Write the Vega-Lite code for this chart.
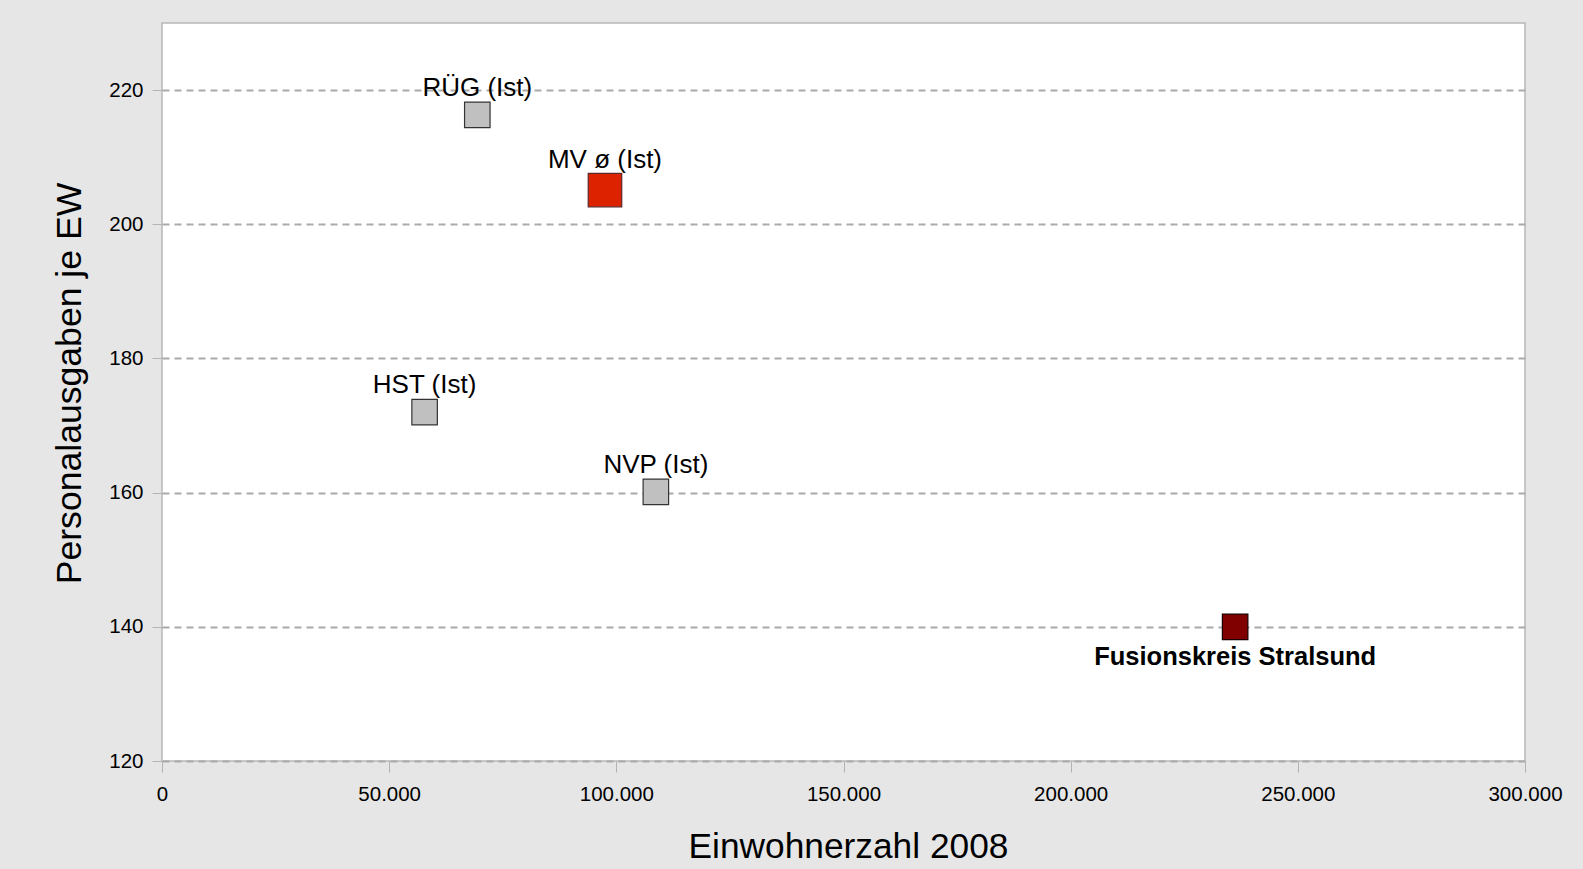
{
  "$schema": "https://vega.github.io/schema/vega-lite/v6.json",
  "width": 1363,
  "height": 738,
  "autosize": {"type": "none"},
  "padding": {"left": 162, "top": 23, "right": 58, "bottom": 108},
  "background": "#e6e6e6",
  "config": {
    "font": "Liberation Sans",
    "view": {"fill": "white", "stroke": "#b8b8b8", "strokeWidth": 1.5},
    "locale": {"number": {"decimal": ",", "thousands": ".", "grouping": [3], "currency": ["", " €"]}}
  },
  "data": {
    "values": [
      {"name": "RÜG", "label": "RÜG (Ist)", "typ": "Ist", "einwohner": 69400, "ausgaben": 216.3},
      {"name": "MV", "label": "MV ø (Ist)", "typ": "MV", "einwohner": 97500, "ausgaben": 205.1},
      {"name": "HST", "label": "HST (Ist)", "typ": "Ist", "einwohner": 57800, "ausgaben": 172.0},
      {"name": "NVP", "label": "NVP (Ist)", "typ": "Ist", "einwohner": 108700, "ausgaben": 160.1},
      {"name": "Fusion", "label": "Fusionskreis Stralsund", "typ": "Fusion", "einwohner": 236200, "ausgaben": 140.0}
    ]
  },
  "layer": [
    {
      "mark": {"type": "point", "shape": "square", "filled": true, "opacity": 1, "strokeWidth": 1.2},
      "encoding": {
        "x": {
          "field": "einwohner", "type": "quantitative",
          "scale": {"domain": [0, 300000], "nice": false, "zero": false},
          "axis": {
            "values": [0, 50000, 100000, 150000, 200000, 250000, 300000],
            "format": ",d",
            "grid": false, "domain": false, "labelFlush": false, "labelOverlap": false,
            "tickColor": "#b3b3b3", "tickSize": 11, "tickWidth": 1,
            "labelFontSize": 20.5, "labelColor": "#000000", "labelPadding": 12,
            "title": "Einwohnerzahl 2008", "titleFontSize": 35.3, "titleFontWeight": "normal",
            "titleColor": "#000000", "titleX": 686, "titleY": 96,
            "titleAlign": "center", "titleBaseline": "alphabetic", "titleAnchor": null
          }
        },
        "y": {
          "field": "ausgaben", "type": "quantitative",
          "scale": {"domain": [120, 230], "nice": false, "zero": false},
          "axis": {
            "values": [120, 140, 160, 180, 200, 220],
            "grid": true, "gridColor": "#aaaaaa", "gridDash": [7, 5], "gridWidth": 2,
            "domain": false, "labelFlush": false, "labelOverlap": false,
            "tickColor": "#b3b3b3", "tickSize": 10, "tickWidth": 1,
            "labelFontSize": 20.5, "labelColor": "#000000", "labelPadding": 9,
            "title": "Personalausgaben je EW", "titleFontSize": 35.6, "titleFontWeight": "normal",
            "titleColor": "#000000", "titleAngle": -90, "titleX": -82, "titleY": 360,
            "titleAlign": "center", "titleBaseline": "alphabetic", "titleAnchor": null
          }
        },
        "fill": {"field": "typ", "type": "nominal", "scale": {"domain": ["Ist", "MV", "Fusion"], "range": ["#c0c0c0", "#dd2200", "#800000"]}, "legend": null},
        "stroke": {"field": "typ", "type": "nominal", "scale": {"domain": ["Ist", "MV", "Fusion"], "range": ["#333333", "#5a2a2a", "#1a0000"]}, "legend": null},
        "size": {"field": "typ", "type": "nominal", "scale": {"type": "ordinal", "domain": ["Ist", "MV", "Fusion"], "range": [650, 1122, 650]}, "legend": null}
      }
    },
    {
      "transform": [{"filter": "datum.typ == 'Ist'"}],
      "mark": {"type": "text", "fontSize": 26, "color": "#000000", "align": "center", "baseline": "alphabetic", "dy": -18.7},
      "encoding": {
        "x": {"field": "einwohner", "type": "quantitative"},
        "y": {"field": "ausgaben", "type": "quantitative"},
        "text": {"field": "label"}
      }
    },
    {
      "transform": [{"filter": "datum.typ == 'MV'"}],
      "mark": {"type": "text", "fontSize": 26, "color": "#000000", "align": "center", "baseline": "alphabetic", "dy": -22},
      "encoding": {
        "x": {"field": "einwohner", "type": "quantitative"},
        "y": {"field": "ausgaben", "type": "quantitative"},
        "text": {"field": "label"}
      }
    },
    {
      "transform": [{"filter": "datum.typ == 'Fusion'"}],
      "mark": {"type": "text", "fontSize": 25.5, "fontWeight": "bold", "color": "#000000", "align": "center", "baseline": "alphabetic", "dy": 38.4},
      "encoding": {
        "x": {"field": "einwohner", "type": "quantitative"},
        "y": {"field": "ausgaben", "type": "quantitative"},
        "text": {"field": "label"}
      }
    }
  ]
}
